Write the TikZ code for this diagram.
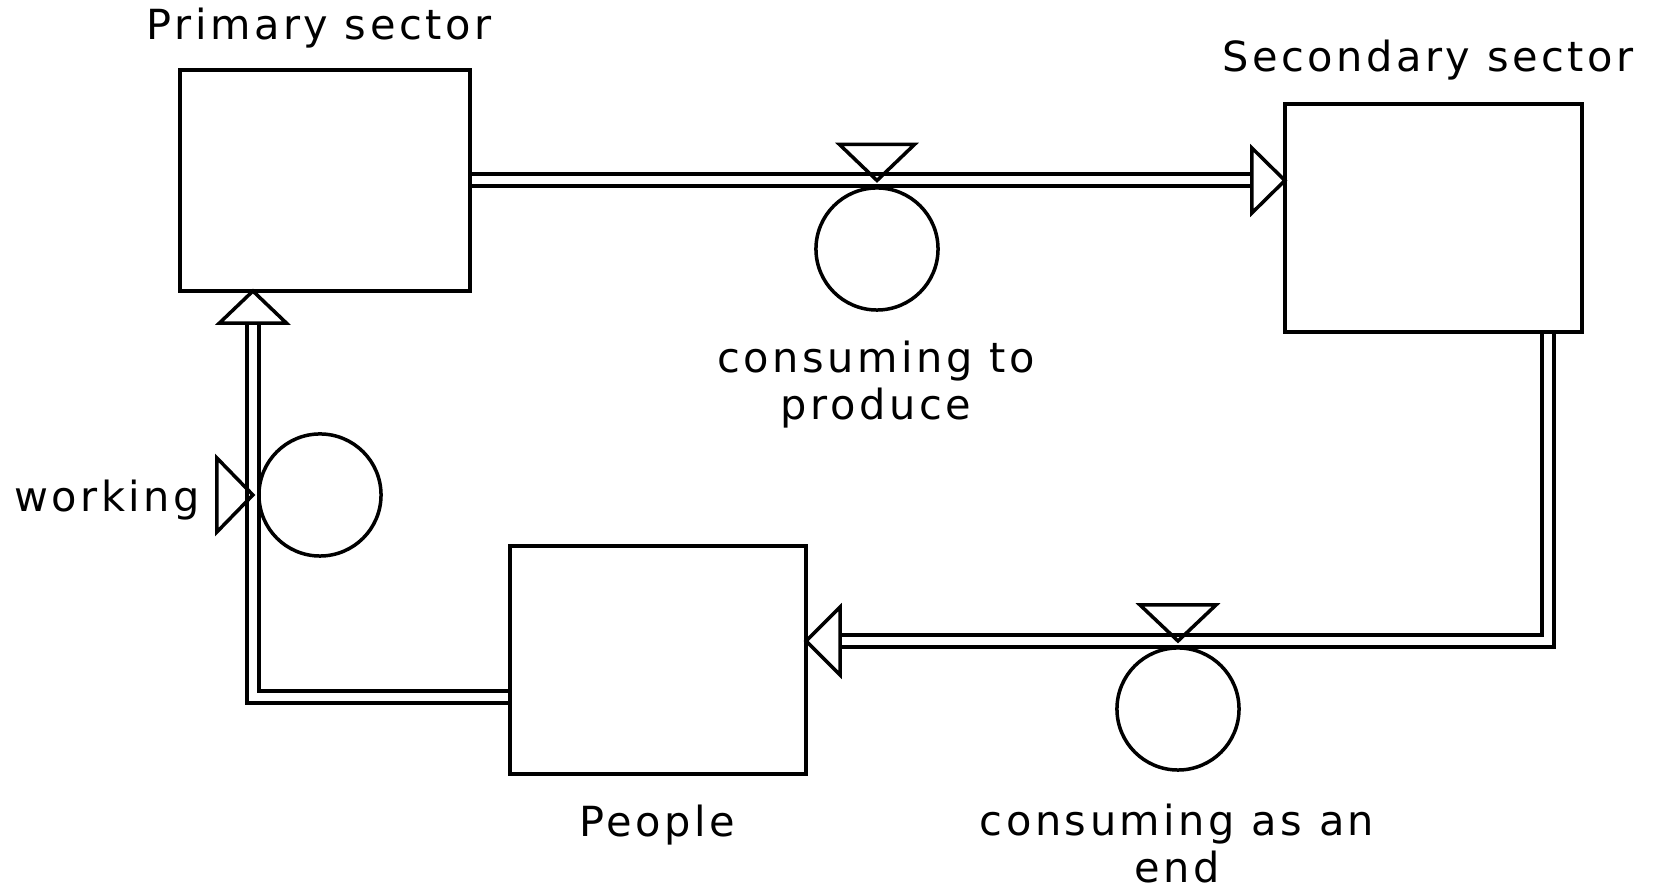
\documentclass[tikz,border=0pt]{standalone}
\usepackage{fontspec}
\setmainfont{DejaVu Sans}[LetterSpace=8.5]
\usetikzlibrary{calc}
\pgfdeclarelayer{pipes}
\pgfsetlayers{pipes,main}
\begin{document}
\begin{tikzpicture}[x=0.01cm, y=-0.01cm,
  stock/.style={draw, line width=0.038cm, inner sep=0pt, outer sep=0pt},
  pipe/.style={line width=0.04cm, double=white, double distance=0.08cm, line join=miter},
  headtip/.style={draw, line width=0.035cm, fill=white, line join=miter},
  valvetip/.style={draw, line width=0.035cm, line join=miter},
  conv/.style={circle, draw, line width=0.035cm, minimum size=1.22cm, inner sep=0pt, outer sep=0pt},
  lbl/.style={font=\fontsize{11.8}{13.4}\selectfont, anchor=base, inner sep=0pt, align=center}]
\useasboundingbox (0,0) rectangle (1662,889);

% stocks
\node[stock, minimum width=2.90cm, minimum height=2.21cm] (prim) at (325,180.5) {};
\node[stock, minimum width=2.97cm, minimum height=2.28cm] (sec) at (1433.5,218) {};
\node[stock, minimum width=2.96cm, minimum height=2.28cm] (peo) at (658,660) {};

% converters
\node[conv] (cA) at (877,249) {};
\node[conv] (cB) at (320,495) {};
\node[conv] (cC) at (1178,709) {};

% pipe end points
\coordinate (tipA) at (prim.east -| sec.west);
\coordinate (rs) at ($(sec.south east)+(-34,0)$);
\coordinate (tipB) at ($(peo.east)+(0,-19)$);
\coordinate (lp) at ($(peo.west)+(0,37)$);
\coordinate (tipC) at ($(prim.south west)+(73,0)$);

% flows, kept under the stock outlines
\begin{pgfonlayer}{pipes}
\draw[pipe] (prim.east) -- ($(tipA)+(-33,0)$);
\draw[pipe] (rs) |- ($(tipB)+(34,0)$);
\draw[pipe] (lp) -| ($(tipC)+(0,32)$);
\end{pgfonlayer}

% arrow heads
\draw[headtip] (tipA) -- ++(-33,-32.5) -- ++(0,65) -- cycle;
\draw[headtip] (tipB) -- ++(34,-34) -- ++(0,68) -- cycle;
\draw[headtip] (tipC) -- ++(-33.5,32) -- ++(67,0) -- cycle;

% valves
\coordinate (vA) at (cA.north |- tipA);
\coordinate (vB) at (tipC |- cB.west);
\coordinate (vC) at (cC.north |- tipB);
\draw[valvetip] (vA) -- ++(-37.5,-36) -- ++(75,0) -- cycle;
\draw[valvetip] (vB) -- ++(-36,-37) -- ++(0,74) -- cycle;
\draw[valvetip] (vC) -- ++(-38,-36) -- ++(76,0) -- cycle;

% labels
\node[lbl] (lprim) at (319,40) {Primary sector};
\node[lbl] (lsec) at (1428,72) {Secondary sector};
\node[lbl] (lpeo) at (657,837) {People};
\node[lbl] (lwork) at (107,512) {working};
\node[lbl] (lcA) at (876,420) {consuming to\\produce};
\node[lbl] (lcC) at (1177,883) {consuming as an\\end};
\end{tikzpicture}
\end{document}
